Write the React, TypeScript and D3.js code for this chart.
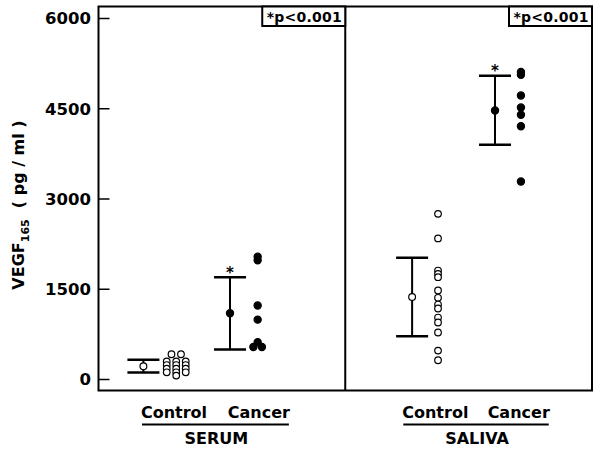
import React from "react";
import * as d3 from "d3";

// ---- data ----
const yTicks = [0, 1500, 3000, 4500, 6000];
const groups = ["SERUM", "SALIVA"];
const categories = ["Control", "Cancer"];

// summary: [mean, lower, upper]
const serumControlSummary = [220, 115, 330];
const serumCancerSummary = [1100, 500, 1700];
const salivaControlSummary = [1370, 720, 2025];
const salivaCancerSummary = [4470, 3900, 5050];

const serumControlValues = [420, 420, 300, 240, 180, 120, 300, 240, 180, 120, 65, 300, 240, 180, 120];
const serumControlSlot = [-0.5, 0.5, -1, -1, -1, -1, 0, 0, 0, 0, 0, 1, 1, 1, 1];
const serumCancerValues = [2040, 1980, 1230, 995, 620, 540, 540];
const serumCancerSlot = [0, 0, 0, 0, 0, -0.45, 0.45];
const salivaControlValues = [2753, 2345, 1811, 1756, 1700, 1479, 1358, 1246, 1180, 1030, 947, 781, 480, 320];
const salivaCancerValues = [5110, 5065, 4720, 4520, 4400, 4210, 3290];

const pLabel = "*p<0.001";

// ---- layout ----
const W = 600, H = 451;
const frame = { left: 98.5, right: 592, top: 6.5, bottom: 390.5 };
const FONT = "'DejaVu Sans', Verdana, sans-serif";

export default function App() {
  const y = d3.scaleLinear().domain([0, 6000]).range([379.5, 18.5]);
  const panelX = d3.scaleBand().domain(groups).range([frame.left, frame.right]).padding(0);
  const mid = panelX("SALIVA")!;

  // within-panel positions (fraction of panel width)
  const layouts = [
    { group: "SERUM", meanX: [0.182, 0.533], ptsX: [0.315, 0.645], labelX: [0.306, 0.65], slot: 9.5 },
    { group: "SALIVA", meanX: [0.271, 0.607], ptsX: [0.376, 0.712], labelX: [0.365, 0.703], slot: 9.5 },
  ];
  const summaries = [
    [serumControlSummary, serumCancerSummary],
    [salivaControlSummary, salivaCancerSummary],
  ];
  const values = [
    [serumControlValues, serumCancerValues],
    [salivaControlValues, salivaCancerValues],
  ];
  const slots = [
    [serumControlSlot, serumCancerSlot],
    [salivaControlValues.map(() => 0), salivaCancerValues.map(() => 0)],
  ];

  const px = (gi: number, f: number) => {
    const x0 = panelX(groups[gi])!;
    return x0 + f * panelX.bandwidth();
  };

  return (
    <svg width={W} height={H} style={{ position: "absolute", left: 0, top: 0, background: "#fff" }}>
      <rect x={0} y={0} width={W} height={H} fill="#fff" />
      {/* frame */}
      <rect x={frame.left} y={frame.top} width={frame.right - frame.left} height={frame.bottom - frame.top}
        fill="none" stroke="#000" strokeWidth={2} />
      <line x1={mid} x2={mid} y1={frame.top} y2={frame.bottom} stroke="#000" strokeWidth={2} />

      {/* y ticks */}
      {yTicks.map((t) => (
        <g key={t}>
          <line x1={frame.left} x2={frame.left + 11} y1={y(t)} y2={y(t)} stroke="#000" strokeWidth={1.5} />
          <text x={91} y={y(t)} dy="0.36em" textAnchor="end" fontFamily={FONT} fontWeight="bold" fontSize={16.5}>
            {t}
          </text>
        </g>
      ))}

      {/* y title */}
      <text transform="translate(24,205) rotate(-90)" textAnchor="middle" fontFamily={FONT} fontWeight="bold" fontSize={16}>
        <tspan>VEGF</tspan>
        <tspan fontSize={11} dy={5}>165</tspan>
        <tspan dy={-5} xmlSpace="preserve">{"  ( pg / ml )"}</tspan>
      </text>

      {/* p boxes */}
      {groups.map((g, gi) => {
        const right = gi === 0 ? mid : frame.right;
        const left = right - 83;
        return (
          <g key={g}>
            <rect x={left} y={frame.top} width={right - left} height={19.5} fill="#fff" stroke="#000" strokeWidth={2} />
            <text x={(left + right) / 2 + 0.5} y={21.5} textAnchor="middle" fontFamily={FONT} fontWeight="bold" fontSize={14}
              textLength={75} lengthAdjust="spacing">
              {pLabel}
            </text>
          </g>
        );
      })}

      {/* data */}
      {layouts.map((L, gi) => (
        <g key={L.group}>
          {categories.map((c, ci) => {
            const [mean, lo, hi] = summaries[gi][ci];
            const mx = px(gi, L.meanX[ci]);
            const ptx = px(gi, L.ptsX[ci]);
            const filled = ci === 1;
            return (
              <g key={c}>
                <line x1={mx} x2={mx} y1={y(lo)} y2={y(hi)} stroke="#000" strokeWidth={2} />
                <line x1={mx - 16} x2={mx + 16} y1={y(lo)} y2={y(lo)} stroke="#000" strokeWidth={2.5} />
                <line x1={mx - 16} x2={mx + 16} y1={y(hi)} y2={y(hi)} stroke="#000" strokeWidth={2.5} />
                <circle cx={mx} cy={y(mean)} r={filled ? 3.6 : 3.4} fill={filled ? "#000" : "#fff"} stroke="#000" strokeWidth={1.2} />
                {filled && (
                  <text x={mx} y={y(hi) + 0.5} textAnchor="middle" fontFamily={FONT} fontWeight="bold" fontSize={15} fill="#000">*</text>
                )}
                {values[gi][ci].map((v, i) => (
                  <circle key={i} cx={ptx + slots[gi][ci][i] * L.slot} cy={y(v)} r={filled ? 3.6 : 3.3}
                    fill={filled ? "#000" : "#fff"} stroke="#000" strokeWidth={1.2} />
                ))}
                <text x={px(gi, L.labelX[ci])} y={418} textAnchor="middle" fontFamily={FONT} fontWeight="bold" fontSize={16}>
                  {c}
                </text>
              </g>
            );
          })}
          <line x1={px(gi, L.labelX[0]) - 32} x2={px(gi, L.labelX[1]) + 30} y1={424.5} y2={424.5} stroke="#000" strokeWidth={2} />
          <text x={(px(gi, L.labelX[0]) + px(gi, L.labelX[1])) / 2} y={444} textAnchor="middle" fontFamily={FONT}
            fontWeight="bold" fontSize={16}>
            {L.group}
          </text>
        </g>
      ))}
    </svg>
  );
}
